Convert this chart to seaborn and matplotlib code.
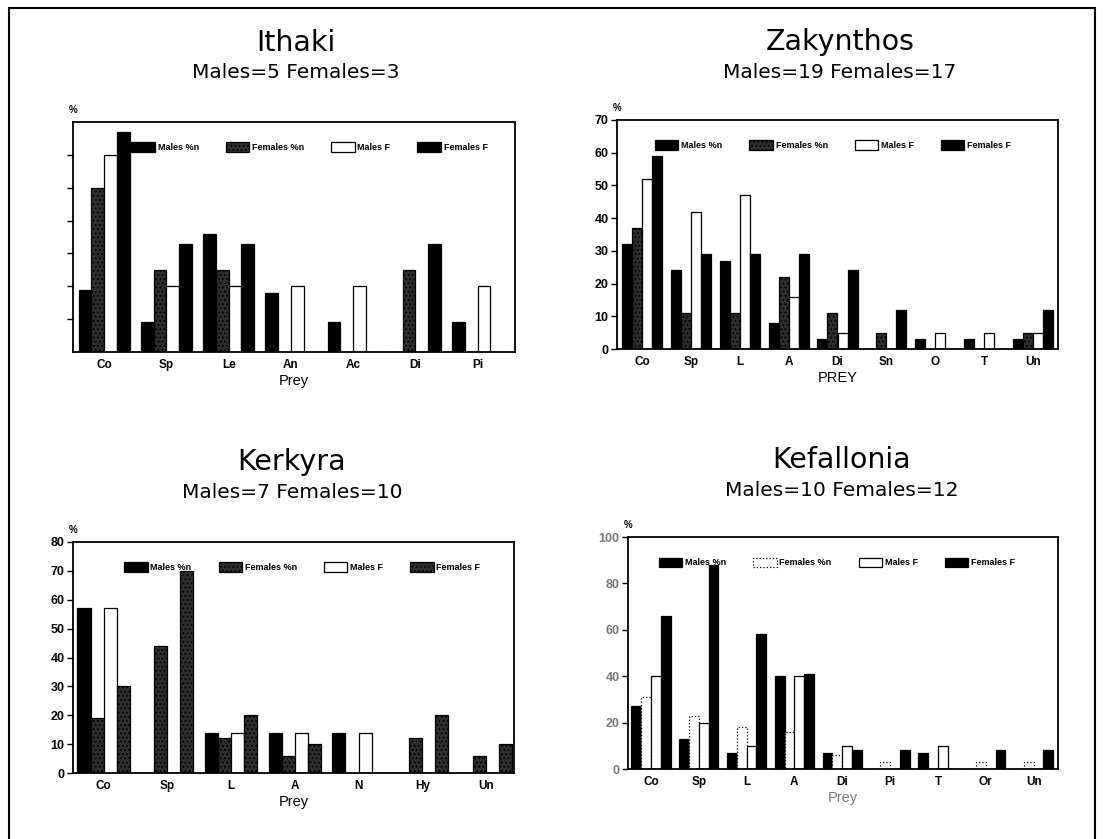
import pandas as pd
import matplotlib
matplotlib.use('Agg')
import matplotlib.pyplot as plt
import seaborn as sns
from matplotlib.patches import Patch
from matplotlib.lines import Line2D

# --- values (percent) ---
series = ['Males %n', 'Females %n', 'Males F', 'Females F']

ithaki_prey = ['Co', 'Sp', 'Le', 'An', 'Ac', 'Di', 'Pi']
ithaki_males_n = [19, 9, 36, 18, 9, 0, 9]
ithaki_females_n = [50, 25, 25, 0, 0, 25, 0]
ithaki_males_f = [60, 20, 20, 20, 20, 0, 20]
ithaki_females_f = [67, 33, 33, 0, 0, 33, 0]

zak_prey = ['Co', 'Sp', 'L', 'A', 'Di', 'Sn', 'O', 'T', 'Un']
zak_males_n = [32, 24, 27, 8, 3, 0, 3, 3, 3]
zak_females_n = [37, 11, 11, 22, 11, 5, 0, 0, 5]
zak_males_f = [52, 42, 47, 16, 5, 0, 5, 5, 5]
zak_females_f = [59, 29, 29, 29, 24, 12, 0, 0, 12]

ker_prey = ['Co', 'Sp', 'L', 'A', 'N', 'Hy', 'Un']
ker_males_n = [57, 0, 14, 14, 14, 0, 0]
ker_females_n = [19, 44, 12, 6, 0, 12, 6]
ker_males_f = [57, 0, 14, 14, 14, 0, 0]
ker_females_f = [30, 70, 20, 10, 0, 20, 10]

kef_prey = ['Co', 'Sp', 'L', 'A', 'Di', 'Pi', 'T', 'Or', 'Un']
kef_males_n = [27, 13, 7, 40, 7, 0, 7, 0, 0]
kef_females_n = [31, 23, 18, 16, 6, 3, 0, 3, 3]
kef_males_f = [40, 20, 10, 40, 10, 0, 10, 0, 0]
kef_females_f = [66, 88, 58, 41, 8, 8, 0, 8, 8]


def make_df(prey, *cols):
    rows = []
    for name, vals in zip(series, cols):
        for p, v in zip(prey, vals):
            rows.append({'prey': p, 'series': name, 'pct': v})
    return pd.DataFrame(rows)


# bar looks: (facecolor, hatch, linestyle)
BLACK = ('black', None, '-')
WHITE = ('white', None, '-')
STIPPLE = ('#2e2e2e', '....', '-')
DOTTED = ('white', None, ':')

sns.set_theme(style='ticks')
plt.rcParams['font.family'] = ['Liberation Sans', 'DejaVu Sans']
plt.rcParams['hatch.linewidth'] = 0.8
for key in ['text.color', 'axes.labelcolor', 'xtick.color', 'ytick.color']:
    plt.rcParams[key] = 'black'

fig = plt.figure(figsize=(11.04, 8.39), dpi=100)
W, H = 1104, 839


def px_axes(left, top, right, bottom):
    return fig.add_axes([left / W, 1 - bottom / H, (right - left) / W, (bottom - top) / H])


def draw_panel(ax, df, prey, styles, xlim, ylim, yticks, show_ylabels, xlabel,
               leg_x, label_color='black'):
    sns.barplot(data=df, x='prey', y='pct', hue='series', order=prey,
                hue_order=series, width=0.82, errorbar=None, ax=ax,
                palette=['black'] * 4, edgecolor='black', linewidth=0.9,
                legend=False)
    for cont, (fc, hatch, ls) in zip(ax.containers, styles):
        for p in cont:
            p.set_facecolor(fc)
            p.set_hatch(hatch)
            p.set_linestyle(ls)
    ax.set_xlim(*xlim)
    ax.set_ylim(*ylim)
    ax.set_yticks(yticks)
    if show_ylabels:
        ax.set_yticklabels([str(t) for t in yticks], color=label_color)
    else:
        ax.set_yticklabels([])
    ax.tick_params(axis='y', direction='out', length=4, width=1, labelsize=9, pad=2)
    ax.tick_params(axis='x', length=0, labelsize=8.5, pad=5)
    for lab in ax.get_xticklabels() + ax.get_yticklabels():
        lab.set_fontweight('bold')
    ax.set_xlabel(xlabel, fontsize=10.5, labelpad=2, color=label_color)
    ax.set_ylabel('')
    for s in ax.spines.values():
        s.set_visible(True)
        s.set_linewidth(1.3)
        s.set_color('black')
    handles = [Patch(facecolor=fc, edgecolor='black', hatch=h, linestyle=ls, linewidth=0.9)
               for fc, h, ls in styles]
    ax.legend(handles, series, loc='center', bbox_to_anchor=(leg_x, 0.89), ncol=4,
              frameon=False, prop={'size': 6.5, 'weight': 'bold'},
              handlelength=2.6, handleheight=1.3, handletextpad=0.3,
              columnspacing=3.0)
    ax.text(0.0, 1.03, '%', transform=ax.transAxes, fontsize=7, fontweight='bold',
            ha='center', va='bottom')


# --- Ithaki ---
ax1 = px_axes(73, 122, 515, 352)
draw_panel(ax1, make_df(ithaki_prey, ithaki_males_n, ithaki_females_n, ithaki_males_f, ithaki_females_f),
           ithaki_prey, [BLACK, STIPPLE, WHITE, BLACK], (-0.5, 6.6), (0, 70),
           [10, 20, 30, 40, 50, 60], False, 'Prey', 0.535)

# --- Zakynthos ---
ax2 = px_axes(617, 120, 1058, 349)
draw_panel(ax2, make_df(zak_prey, zak_males_n, zak_females_n, zak_males_f, zak_females_f),
           zak_prey, [BLACK, STIPPLE, WHITE, BLACK], (-0.51, 8.51), (0, 70),
           list(range(0, 71, 10)), True, 'PREY', 0.49)

# --- Kerkyra ---
ax3 = px_axes(73, 542, 514, 773)
draw_panel(ax3, make_df(ker_prey, ker_males_n, ker_females_n, ker_males_f, ker_females_f),
           ker_prey, [BLACK, STIPPLE, WHITE, STIPPLE], (-0.48, 6.44), (0, 80),
           list(range(0, 81, 10)), True, 'Prey', 0.52)

# --- Kefallonia ---
ax4 = px_axes(628, 537, 1058, 769)
draw_panel(ax4, make_df(kef_prey, kef_males_n, kef_females_n, kef_males_f, kef_females_f),
           kef_prey, [BLACK, DOTTED, WHITE, BLACK], (-0.48, 8.51), (0, 100),
           list(range(0, 101, 20)), True, 'Prey', 0.486, label_color='#777777')

# --- titles ---
titles = [('Ithaki', 'Males=5 Females=3', 296, 43, 73),
          ('Zakynthos', 'Males=19 Females=17', 840, 42, 72),
          ('Kerkyra', 'Males=7 Females=10', 292, 462, 493),
          ('Kefallonia', 'Males=10 Females=12', 842, 460, 490)]
for t, sub, x, y1, y2 in titles:
    fig.text(x / W, 1 - y1 / H, t, fontsize=20.5, ha='center', va='center',
             family='DejaVu Sans')
    fig.text(x / W, 1 - y2 / H, sub, fontsize=14.5, ha='center', va='center',
             family='DejaVu Sans')

# scan frame
fig.add_artist(Line2D([9 / W, 9 / W], [0, 1 - 8 / H], color='black', lw=1.5))
fig.add_artist(Line2D([9 / W, 1095 / W], [1 - 8 / H, 1 - 8 / H], color='black', lw=1.5))
fig.add_artist(Line2D([1095 / W, 1095 / W], [0, 1 - 8 / H], color='black', lw=1.5))

fig.savefig('out.png', dpi=100, facecolor='white')
